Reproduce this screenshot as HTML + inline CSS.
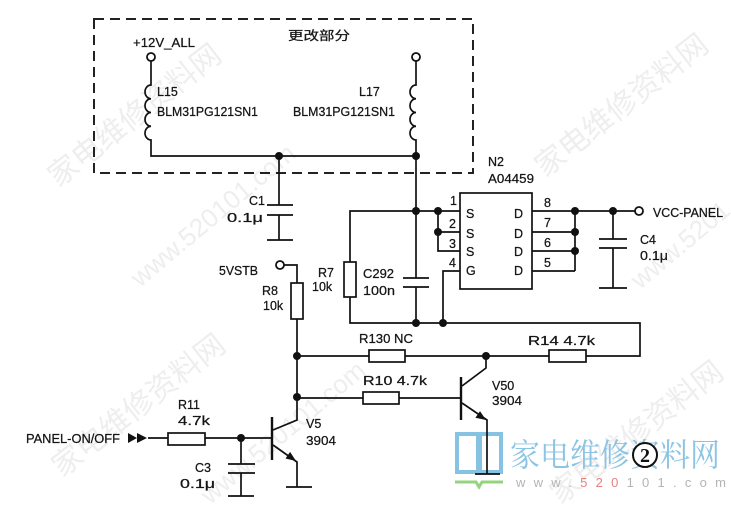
<!DOCTYPE html>
<html><head><meta charset="utf-8"><style>
html,body{margin:0;padding:0;background:#fff;}
svg{display:block;}
.t{font-family:"Liberation Sans","Noto Sans CJK SC",sans-serif;font-size:12.5px;fill:#151515;stroke:#151515;stroke-width:0.25px;}
.w{font-family:"Liberation Sans","Noto Sans CJK SC",sans-serif;fill:#eeeeee;}
</style></head><body>
<svg width="731" height="506" viewBox="0 0 731 506" xmlns="http://www.w3.org/2000/svg">
<rect width="731" height="506" fill="#fff"/>
<!-- watermarks -->
<text class="w" font-size="30" transform="translate(58,188) rotate(-38)">家电维修资料网</text>
<text class="w" font-size="30" transform="translate(545,178) rotate(-38)">家电维修资料网</text>
<text class="w" font-size="26" transform="translate(140,288) rotate(-40)">www.520101.com</text>
<text class="w" font-size="30" transform="translate(62,478) rotate(-38)">家电维修资料网</text>
<text class="w" font-size="26" transform="translate(210,505) rotate(-40)">www.520101.com</text>
<text class="w" font-size="26" transform="translate(640,290) rotate(-40)">www.5201</text>
<text class="w" font-size="30" transform="translate(560,505) rotate(-38)">家电维修资料网</text>

<!-- logo -->
<g fill="none" stroke="#86c2e2" stroke-width="4">
<rect x="457" y="434" width="21" height="38"/>
<rect x="480" y="434" width="21" height="38"/>
</g>
<polyline points="455,482 476,482 479,487 482,482 503,482" fill="none" stroke="#94d47e" stroke-width="3"/>
<text x="510" y="466" font-family="'Noto Serif CJK SC','Noto Sans CJK SC',serif" font-size="32" fill="#8cc4e4" textLength="210" lengthAdjust="spacingAndGlyphs">家电维修资料网</text>
<text x="516" y="487" font-family="'Liberation Sans',sans-serif" font-size="13" fill="#b4b4b4" textLength="210" lengthAdjust="spacing">www.<tspan fill="#e88080">520</tspan>101.com</text>
<circle cx="645" cy="455" r="12" fill="#fff" stroke="#111" stroke-width="2"/>
<text x="645" y="462" text-anchor="middle" font-family="'Liberation Serif',serif" font-weight="bold" font-size="20" fill="#111">2</text>

<!-- dashed box -->
<path d="M94,19 H473 V173 H94 Z" fill="none" stroke="#222" stroke-width="2" stroke-dasharray="10,6"/>

<g fill="none" stroke="#111" stroke-width="1.7">
<!-- L15 -->
<path d="M151,61 V85 a6,6.875 0 0 0 0,13.75 a6,6.875 0 0 0 0,13.75 a6,6.875 0 0 0 0,13.75 a6,6.875 0 0 0 0,13.75 V156 H416"/>
<!-- L17 -->
<path d="M416,61 V85 a6,6.875 0 0 0 0,13.75 a6,6.875 0 0 0 0,13.75 a6,6.875 0 0 0 0,13.75 a6,6.875 0 0 0 0,13.75 V278"/>
<!-- C1 -->
<path d="M279,156 V205 M267,205 H293 M267,215 H293 M279,215 V240 M267,240 H293"/>
<!-- pin1 line and R7 -->
<path d="M350,262 V211 H460"/>
<rect x="344" y="262" width="12" height="35"/>
<path d="M350,297 V323 H640 V356 H586"/>
<!-- C292 -->
<path d="M403,278 H429 M403,287 H429 M416,287 V323"/>
<!-- S pins -->
<path d="M438,211 V251 H460 M438,232 H460"/>
<path d="M460,271 H443 V323"/>
<!-- chip -->
<rect x="460" y="193" width="72" height="96"/>
<!-- D pins -->
<path d="M532,211 H575 M532,232 H575 M532,251 H575 M532,271 H575 M575,211 V271 M575,211 H635"/>
<!-- C4 -->
<path d="M613,211 V239 M599,239 H627 M599,248 H627 M613,248 V288 M599,288 H627"/>
<!-- 5VSTB & R8 -->
<path d="M284,265 H297 V283"/>
<rect x="291" y="283" width="12" height="36"/>
<path d="M297,319 V420 L273,430"/>
<!-- R130 / R14 line -->
<path d="M297,356 H369 M405,356 H549"/>
<rect x="369" y="350" width="36" height="12"/>
<rect x="549" y="350" width="37" height="12"/>
<!-- R10 line -->
<path d="M297,398 H363 M399,398 H461"/>
<rect x="363" y="392" width="36" height="12"/>
<!-- V50 -->
<path d="M461,377 V420" stroke-width="2.4"/>
<path d="M486,356 V368 L462,386 M462,403 L487,420 V474 M475,474 H500"/>
<!-- V5 -->
<path d="M272,417 V460" stroke-width="2.4"/>
<path d="M273,445 L297,462 V487 M286,487 H312"/>
<!-- R11 line -->
<path d="M148,438 H168 M205,438 H272"/>
<rect x="168" y="433" width="37" height="12"/>
<!-- C3 -->
<path d="M241,438 V464 M228,464 H255 M228,473 H255 M241,473 V496 M228,496 H254"/>
</g>

<!-- open terminals -->
<g fill="#fff" stroke="#111" stroke-width="1.8">
<circle cx="151" cy="57" r="4"/>
<circle cx="416" cy="57" r="4"/>
<circle cx="280" cy="265" r="4"/>
<circle cx="639" cy="211" r="4"/>
</g>
<!-- junction dots -->
<g fill="#111">
<circle cx="279" cy="156" r="4"/>
<circle cx="416" cy="156" r="4"/>
<circle cx="416" cy="211" r="4"/>
<circle cx="438" cy="211" r="4"/>
<circle cx="438" cy="232" r="4"/>
<circle cx="575" cy="211" r="4"/>
<circle cx="575" cy="232" r="4"/>
<circle cx="575" cy="251" r="4"/>
<circle cx="613" cy="211" r="4"/>
<circle cx="416" cy="323" r="4"/>
<circle cx="443" cy="323" r="4"/>
<circle cx="297" cy="356" r="4"/>
<circle cx="486" cy="356" r="4"/>
<circle cx="297" cy="397" r="4"/>
<circle cx="241" cy="438" r="4"/>
<!-- emitter arrows -->
<polygon points="296,461 285.5,458.5 290.1,451.9"/>
<polygon points="486,420 475.4,417.7 480,411.1"/>
<!-- input arrows -->
<polygon points="128,433 137,438 128,443"/>
<polygon points="137,433 147,438 137,443"/>
</g>

<!-- labels -->
<text class="t" x="288" y="40" font-size="15" textLength="62" lengthAdjust="spacingAndGlyphs" style="font-family:'Noto Sans CJK SC',sans-serif">更改部分</text>
<text class="t" x="133" y="47" textLength="62" lengthAdjust="spacingAndGlyphs">+12V_ALL</text>
<text class="t" x="157" y="96">L15</text>
<text class="t" x="157" y="116" textLength="101" lengthAdjust="spacingAndGlyphs">BLM31PG121SN1</text>
<text class="t" x="359" y="96">L17</text>
<text class="t" x="293" y="116" textLength="102" lengthAdjust="spacingAndGlyphs">BLM31PG121SN1</text>
<text class="t" x="488" y="166">N2</text>
<text class="t" x="488" y="183" textLength="46" lengthAdjust="spacingAndGlyphs">A04459</text>
<text class="t" x="450" y="205">1</text>
<text class="t" x="449" y="228">2</text>
<text class="t" x="449" y="248">3</text>
<text class="t" x="449" y="267">4</text>
<text class="t" x="466" y="218">S</text>
<text class="t" x="466" y="238">S</text>
<text class="t" x="466" y="256">S</text>
<text class="t" x="466" y="275">G</text>
<text class="t" x="514" y="218">D</text>
<text class="t" x="514" y="238">D</text>
<text class="t" x="514" y="256">D</text>
<text class="t" x="514" y="275">D</text>
<text class="t" x="544" y="207">8</text>
<text class="t" x="544" y="227">7</text>
<text class="t" x="544" y="247">6</text>
<text class="t" x="544" y="267">5</text>
<text class="t" x="653" y="217" textLength="70" lengthAdjust="spacingAndGlyphs">VCC-PANEL</text>
<text class="t" x="640" y="244">C4</text>
<text class="t" x="640" y="260" textLength="28" lengthAdjust="spacingAndGlyphs">0.1μ</text>
<text class="t" x="249" y="205">C1</text>
<text class="t" x="227" y="222" textLength="36" lengthAdjust="spacingAndGlyphs">0.1μ</text>
<text class="t" x="219" y="275" textLength="39" lengthAdjust="spacingAndGlyphs">5VSTB</text>
<text class="t" x="262" y="295">R8</text>
<text class="t" x="263" y="310">10k</text>
<text class="t" x="318" y="277">R7</text>
<text class="t" x="312" y="291">10k</text>
<text class="t" x="363" y="278" textLength="31" lengthAdjust="spacingAndGlyphs">C292</text>
<text class="t" x="363" y="295" textLength="32" lengthAdjust="spacingAndGlyphs">100n</text>
<text class="t" x="359" y="343" textLength="54" lengthAdjust="spacingAndGlyphs">R130 NC</text>
<text class="t" x="528" y="345" textLength="67" lengthAdjust="spacingAndGlyphs">R14  4.7k</text>
<text class="t" x="363" y="385" textLength="64" lengthAdjust="spacingAndGlyphs">R10 4.7k</text>
<text class="t" x="492" y="390">V50</text>
<text class="t" x="492" y="405" textLength="30" lengthAdjust="spacingAndGlyphs">3904</text>
<text class="t" x="178" y="409">R11</text>
<text class="t" x="178" y="425" textLength="32" lengthAdjust="spacingAndGlyphs">4.7k</text>
<text class="t" x="26" y="443" textLength="94" lengthAdjust="spacingAndGlyphs">PANEL-ON/OFF</text>
<text class="t" x="306" y="428">V5</text>
<text class="t" x="306" y="445" textLength="30" lengthAdjust="spacingAndGlyphs">3904</text>
<text class="t" x="195" y="472">C3</text>
<text class="t" x="180" y="488" textLength="35" lengthAdjust="spacingAndGlyphs">0.1μ</text>
</svg>
</body></html>
